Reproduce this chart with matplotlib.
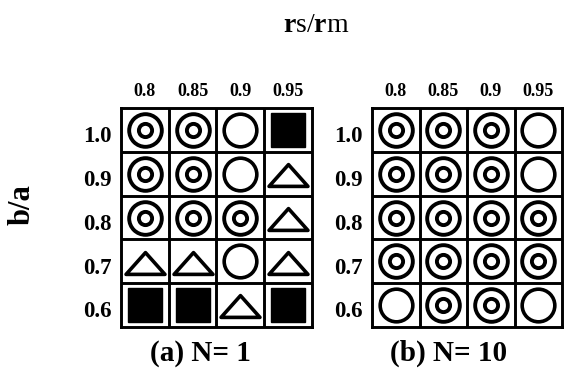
import matplotlib
matplotlib.use("Agg")
import matplotlib.pyplot as plt
from matplotlib.path import Path

plt.rcParams["font.family"] = ["Liberation Serif", "DejaVu Serif"]
plt.rcParams["mathtext.fontset"] = "custom"
plt.rcParams["mathtext.rm"] = "Liberation Serif"
plt.rcParams["mathtext.bf"] = "Liberation Serif:bold"

# rs/rm values (columns) and b/a values (rows, top to bottom)
rs_rm = ["0.8", "0.85", "0.9", "0.95"]
b_a = ["1.0", "0.9", "0.8", "0.7", "0.6"]

# D = double circle, O = circle, T = triangle, S = filled square
symbols_n1 = [
    ["D", "D", "O", "S"],
    ["D", "D", "O", "T"],
    ["D", "D", "D", "T"],
    ["T", "T", "O", "T"],
    ["S", "S", "T", "S"],
]
symbols_n10 = [
    ["D", "D", "D", "O"],
    ["D", "D", "D", "O"],
    ["D", "D", "D", "D"],
    ["D", "D", "D", "D"],
    ["O", "D", "D", "O"],
]

# wide flat triangle marker
tri = Path([(-0.5, -0.28), (0.5, -0.28), (0.0, 0.28), (-0.5, -0.28)],
           [Path.MOVETO, Path.LINETO, Path.LINETO, Path.CLOSEPOLY])

LW = 2.8
GRID_LW = 2.1


def draw_grid(ax, symbols):
    nrow, ncol = len(b_a), len(rs_rm)
    ax.set_xlim(0, ncol)
    ax.set_ylim(nrow, 0)
    for i in range(1, ncol):
        ax.axvline(i, color="black", lw=GRID_LW)
    for j in range(1, nrow):
        ax.axhline(j, color="black", lw=GRID_LW)
    for s in ax.spines.values():
        s.set_linewidth(GRID_LW)

    for r, row in enumerate(symbols):
        for c, sym in enumerate(row):
            x, y = c + 0.5, r + 0.5
            if sym == "D":
                ax.plot(x, y, "o", ms=23.5, mfc="none", mec="black", mew=LW)
                ax.plot(x, y, "o", ms=9.5, mfc="none", mec="black", mew=LW)
            elif sym == "O":
                ax.plot(x, y, "o", ms=23.5, mfc="none", mec="black", mew=2.6)
            elif sym == "S":
                ax.plot(x, y, "s", ms=24, mfc="black", mec="black", mew=1)
            elif sym == "T":
                ax.plot(x, y + 0.03, marker=tri, ms=28, mfc="none",
                        mec="black", mew=2.6, linestyle="none")

    ax.xaxis.tick_top()
    ax.set_xticks([c + 0.5 for c in range(ncol)])
    ax.set_xticklabels(rs_rm, fontsize=13, fontweight="bold")
    ax.set_yticks([r + 0.6 for r in range(nrow)])
    ax.set_yticklabels(b_a, fontsize=16.5, fontweight="bold")
    ax.tick_params(axis="x", length=0, pad=6)
    ax.tick_params(axis="y", length=0, pad=7)


fig = plt.figure(figsize=(5.64, 3.85), dpi=100)
ax1 = fig.add_axes([0.2145, 0.1506, 0.3387, 0.5688])
ax2 = fig.add_axes([0.6596, 0.1506, 0.3369, 0.5688])
draw_grid(ax1, symbols_n1)
draw_grid(ax2, symbols_n10)

fig.text(0.560, 0.935, r"$\mathbf{r}$s/$\mathbf{r}$m", fontsize=20,
         ha="center", va="center")
fig.text(0.039, 0.468, "b/a", fontsize=22, fontweight="bold",
         rotation=90, ha="center", va="center")
fig.text(0.355, 0.083, "(a) N= 1", fontsize=21, fontweight="bold",
         ha="center", va="center")
fig.text(0.795, 0.083, "(b) N= 10", fontsize=21, fontweight="bold",
         ha="center", va="center")

fig.savefig("out.png", dpi=100)
